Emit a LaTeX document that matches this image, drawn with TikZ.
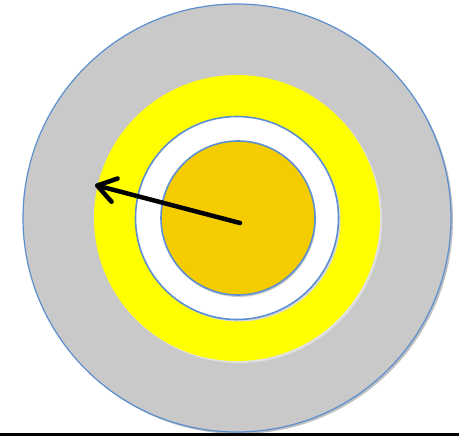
\documentclass[tikz,border=0pt]{standalone}
\usetikzlibrary{arrows.meta}
\definecolor{ringgray}{HTML}{C9C9C9}
\definecolor{ringyellow}{HTML}{FFFF00}
\definecolor{coreorange}{HTML}{F5CC00}
\definecolor{edgeblue}{HTML}{5B8FD0}
\tikzset{
  disc/.style={line width=1.6pt, draw=edgeblue},
  pointer/.style={line width=4.5pt, -{Straight Barb[length=18pt,width=24pt,line cap=round,line join=round]}, line cap=round}
}
\begin{document}
\begin{tikzpicture}[x=1pt,y=-1pt]
\useasboundingbox (0,0) rectangle (459,436);
\fill[white] (0,0) rectangle (459,436);
% soft shadows
\fill[black!25] (239,220) circle (214);
\fill[ringgray, disc, line width=1.2pt] (237,218) circle (214);
\fill[black!12] (239,220) circle (143);
\fill[ringyellow] (237,218) circle (143);
\fill[black!15] (239,220) circle (101.5);
\fill[white, disc] (237,218) circle (101.5);
\fill[black!20] (239,220) circle (77);
\fill[coreorange, disc] (238,218) circle (77);
% pointer
\coordinate (tail) at (240,223);
\coordinate (tip) at (95,185);
\draw[pointer] (tail) -- (tip);
% bottom rule
\fill[black] (0,432.5) rectangle (459,436);
\end{tikzpicture}
\end{document}
